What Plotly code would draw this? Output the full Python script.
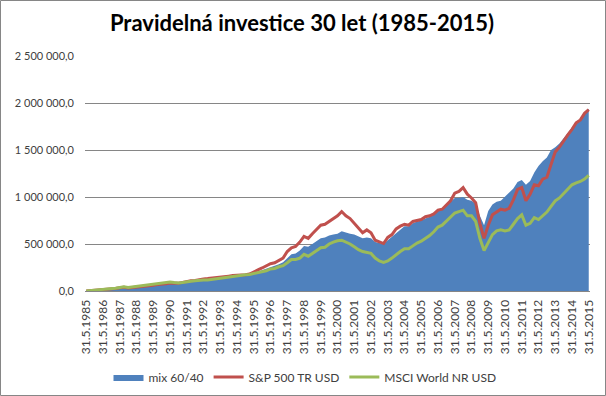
import plotly.graph_objects as go

# Quarterly observations, 31.5.1985 ... 31.5.2015 (values in thousands)
months = ["31.5", "31.8", "30.11", "28.2"]
years = list(range(1985, 2016))

mix_6040 = [
    1, 4, 7, 11,
    14, 18, 22, 26,
    32, 37, 32, 36,
    41, 45, 50, 54,
    60, 66, 70, 74,
    80, 76, 78, 86,
    94, 100, 104, 112,
    116, 120, 124, 130,
    138, 144, 148, 156,
    158, 162, 166, 172,
    190, 205, 220, 235,
    255, 265, 285, 305,
    350, 390, 400, 430,
    480, 470, 500, 530,
    560, 570, 590, 600,
    610, 635, 620, 610,
    600, 580, 560, 570,
    560, 520, 510, 500,
    540, 580, 620, 650,
    690, 690, 720, 740,
    750, 770, 790, 820,
    860, 870, 910, 950,
    990, 990, 1000, 970,
    960, 930, 800, 700,
    850, 920, 950, 960,
    1000, 1040, 1090, 1160,
    1180, 1130, 1170, 1260,
    1330, 1380, 1420, 1500,
    1530, 1570, 1620, 1680,
    1740, 1790, 1830, 1900,
    1940,
]

sp500_tr = [
    1, 4, 8, 12,
    15, 19, 22, 27,
    35, 40, 33, 37,
    42, 46, 50, 55,
    62, 70, 72, 76,
    86, 80, 82, 92,
    102, 108, 112, 124,
    128, 132, 136, 142,
    148, 152, 158, 164,
    166, 170, 174, 180,
    205, 225, 245, 265,
    290, 300, 325, 350,
    420, 460, 475, 520,
    580, 560, 610, 660,
    700, 710, 740, 770,
    800, 845, 800, 770,
    720, 670, 620, 650,
    620, 540, 520, 505,
    570, 600, 660, 690,
    710, 700, 740, 750,
    760, 790, 800, 820,
    860, 870, 920, 960,
    1040, 1060, 1100, 1030,
    990, 940, 720, 560,
    700, 810, 840, 870,
    860, 880, 970, 1080,
    1100, 960, 1030, 1130,
    1120, 1190, 1210, 1340,
    1480, 1530, 1600, 1660,
    1720, 1790, 1820, 1890,
    1930,
]

msci_world_nr = [
    1, 4, 8, 13,
    17, 21, 25, 30,
    38, 44, 38, 44,
    50, 54, 60, 66,
    72, 76, 82, 88,
    96, 90, 86, 90,
    100, 104, 108, 114,
    116, 118, 124, 130,
    140, 148, 150, 160,
    165, 168, 172, 176,
    184, 192, 205, 215,
    235, 240, 258, 270,
    300, 335, 335, 350,
    390, 370, 400, 430,
    460, 465, 500, 520,
    535, 540, 520, 500,
    470, 440, 420, 410,
    400, 350, 320, 305,
    320, 350, 390, 420,
    450, 450, 480, 510,
    530, 560, 590, 630,
    680, 700, 740, 790,
    830, 845, 860, 800,
    800, 740, 560, 430,
    520, 600, 640, 650,
    640, 650, 710, 770,
    810, 700, 720, 780,
    760, 800, 840, 900,
    960, 990, 1040, 1080,
    1130, 1150, 1165, 1190,
    1230,
]

y_ticks = [0, 500000, 1000000, 1500000, 2000000, 2500000]
y_tick_labels = ["0,0", "500 000,0", "1 000 000,0", "1 500 000,0", "2 000 000,0", "2 500 000,0"]

# build category labels
dates = []
for y in years:
    for i, m in enumerate(months):
        yy = y + (1 if i == 3 else 0)
        dates.append(f"{m}.{yy}")
dates = dates[:len(mix_6040)]
idx = list(range(len(dates)))
tick_idx = [i for i in idx if i % 4 == 0]
tick_txt = [dates[i] for i in tick_idx]

FONT = "Lato, 'Open Sans', sans-serif"

fig = go.Figure()
fig.add_trace(go.Scatter(
    x=idx, y=[v * 1000 for v in mix_6040], name="mix 60/40",
    mode="lines", line=dict(width=0, color="#4F81BD"),
    fill="tozeroy", fillcolor="#4F81BD",
))
fig.add_trace(go.Scatter(
    x=idx, y=[v * 1000 for v in sp500_tr], name="S&P 500 TR USD",
    mode="lines", line=dict(width=3, color="#C0504D"),
))
fig.add_trace(go.Scatter(
    x=idx, y=[v * 1000 for v in msci_world_nr], name="MSCI World NR USD",
    mode="lines", line=dict(width=3, color="#9BBB59"),
))

fig.update_layout(
    width=606, height=396,
    margin=dict(l=85, r=16, t=56, b=105, autoexpand=False),
    paper_bgcolor="white", plot_bgcolor="white",
    font=dict(family=FONT, size=11, color="#404040"),
    title=dict(text="<b>Pravidelná investice 30 let (1985-2015)</b>",
               x=(302 - 85) / 505, xref="paper", xanchor="center", y=0.942, yanchor="middle",
               font=dict(family=FONT, size=22, color="black")),
    showlegend=True,
    legend=dict(orientation="h", x=(305 - 85) / 505, xanchor="center", y=-0.366, yanchor="middle",
                font=dict(family=FONT, size=12, color="#404040"),
                itemwidth=30, tracegroupgap=0),
    xaxis=dict(range=[-0.3, 120.3], tickmode="array", tickvals=tick_idx, ticktext=tick_txt,
               tickangle=-90, showgrid=False, zeroline=False, automargin=False,
               showline=True, linecolor="#868686", linewidth=1,
               ticks="", ticklabelstandoff=3, tickfont=dict(size=12, color="#404040")),
    yaxis=dict(range=[0, 2500000], tickmode="array", tickvals=y_ticks, ticktext=y_tick_labels,
               showgrid=True, gridcolor="#868686", gridwidth=1, zeroline=False, automargin=False,
               showline=False, ticks="", ticklen=0, ticklabelstandoff=10,
               tickfont=dict(size=11, color="#404040")),
    shapes=[dict(type="rect", xref="paper", yref="paper",
                 x0=-84.5/505, x1=(505+15.5)/505, y0=-104.5/235, y1=(235+55.5)/235,
                 line=dict(color="#868686", width=1), fillcolor="rgba(0,0,0,0)", layer="below")],
)

fig.write_html("out.html", config={"displayModeBar": False},
               post_script="document.body.style.margin='0';document.body.style.padding='0';")
